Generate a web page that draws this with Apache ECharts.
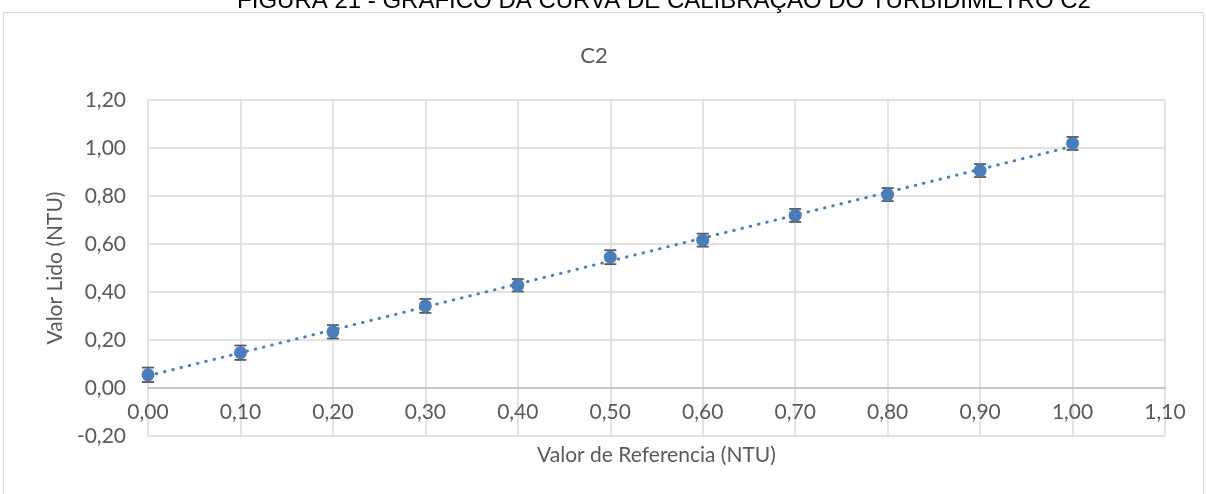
<!DOCTYPE html>
<html>
<head>
<meta charset="utf-8">
<script src="https://cdn.jsdelivr.net/npm/echarts@6/dist/echarts.min.js"></script>
<style>
html,body{margin:0;padding:0;background:#fff;}
#chart{width:1206px;height:494px;}
</style>
</head>
<body>
<div id="chart"></div>
<script>
// Data
const refValues = [0.00, 0.10, 0.20, 0.30, 0.40, 0.50, 0.60, 0.70, 0.80, 0.90, 1.00];
const readValues = [0.055, 0.147, 0.234, 0.342, 0.428, 0.545, 0.616, 0.719, 0.806, 0.906, 1.019];
const errValues = [0.03, 0.03, 0.028, 0.029, 0.026, 0.029, 0.027, 0.027, 0.027, 0.027, 0.027];
const trendX = [0.00, 1.00];
const trendY = [0.051, 1.007];
const headerText = 'FIGURA 21 - GRÁFICO DA CURVA DE CALIBRAÇÃO DO TURBIDÍMETRO C2';
const chartTitle = 'C2';
const xName = 'Valor de Referencia (NTU)';
const yName = 'Valor Lido (NTU)';

const fmt = v => v.toFixed(2).replace('.', ',');
const blue = '#4A7EBB';
const grey = '#595959';
const font = 'Lato, "Open Sans", sans-serif';

const points = refValues.map((x, i) => [x, readValues[i]]);
const errData = refValues.map((x, i) => [x, readValues[i] - errValues[i], readValues[i] + errValues[i]]);
const trendData = trendX.map((x, i) => [x, trendY[i]]);

const chart = echarts.init(document.getElementById('chart'));
chart.setOption({
  animation: false,
  backgroundColor: '#fff',
  graphic: [
    { type: 'rect', shape: { x: 3.5, y: 12.5, width: 1200, height: 500 }, style: { fill: 'none', stroke: '#d9d9d9', lineWidth: 1 }, z: -1 },
    { type: 'text', x: 664, y: 1, style: { text: headerText, font: '24px "Liberation Sans", Arial, sans-serif', fill: '#000', align: 'center', verticalAlign: 'middle' } },
    { type: 'text', x: 594, y: 56, style: { text: chartTitle, font: '22px ' + font, fill: grey, align: 'center', verticalAlign: 'middle' } }
  ],
  grid: { left: 148, right: 41, top: 100, bottom: 58, outerBoundsMode: 'none', containLabel: false },
  xAxis: {
    type: 'value', min: 0, max: 1.1, interval: 0.1,
    offset: -48,
    name: xName, nameLocation: 'middle', nameGap: 57,
    nameTextStyle: { color: grey, fontSize: 21, fontFamily: font },
    axisLine: { show: true, onZero: false, lineStyle: { color: '#bfbfbf', width: 1.5 } },
    axisTick: { show: false },
    axisLabel: { color: grey, fontSize: 21, fontFamily: font, margin: 14, formatter: fmt },
    splitLine: { show: true, lineStyle: { color: '#d9d9d9', width: 1.5 } }
  },
  yAxis: {
    type: 'value', min: -0.2, max: 1.2, interval: 0.2,
    name: yName, nameLocation: 'middle', nameGap: 80,
    nameTextStyle: { color: grey, fontSize: 21, fontFamily: font },
    axisLine: { show: false, onZero: false },
    axisTick: { show: false },
    axisLabel: { color: grey, fontSize: 21, fontFamily: font, margin: 22, formatter: fmt },
    splitLine: { show: true, lineStyle: { color: '#d9d9d9', width: 1.5 } }
  },
  series: [
    {
      type: 'line', data: trendData, showSymbol: false, symbol: 'none', z: 2,
      lineStyle: { color: blue, width: 3, type: [0.5, 8], cap: 'round' }
    },
    {
      type: 'custom', z: 3,
      data: errData,
      renderItem: function (params, api) {
        const x = api.value(0);
        const lo = api.coord([x, api.value(1)]);
        const hi = api.coord([x, api.value(2)]);
        const w = 6;
        const st = { stroke: grey, lineWidth: 1.8 };
        return {
          type: 'group',
          children: [
            { type: 'line', shape: { x1: lo[0], y1: lo[1], x2: hi[0], y2: hi[1] }, style: st },
            { type: 'line', shape: { x1: lo[0] - w, y1: lo[1], x2: lo[0] + w, y2: lo[1] }, style: st },
            { type: 'line', shape: { x1: hi[0] - w, y1: hi[1], x2: hi[0] + w, y2: hi[1] }, style: st }
          ]
        };
      }
    },
    {
      type: 'scatter', data: points, symbol: 'circle', symbolSize: 13, z: 4,
      itemStyle: { color: blue, opacity: 1 }
    }
  ]
});
</script>
</body>
</html>
